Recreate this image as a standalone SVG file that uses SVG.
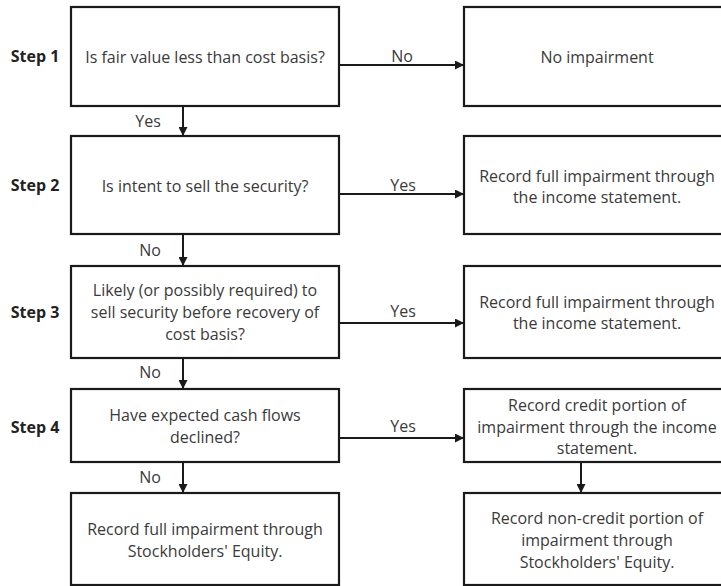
<svg xmlns="http://www.w3.org/2000/svg" width="721" height="586" viewBox="0 0 721 586">
<style>
.box{fill:#fff;stroke:#1a1a1a;stroke-width:2.2}
.t{font-family:"Open Sans","Liberation Sans",sans-serif;font-size:16px;fill:#3a3a3a;text-anchor:middle}
.s{font-family:"Open Sans","Liberation Sans",sans-serif;font-size:16px;font-weight:bold;fill:#222;text-anchor:middle}
.c{stroke:#1a1a1a;stroke-width:2;fill:none;marker-end:url(#ah)}
</style>
<defs>
<marker id="ah" viewBox="0 0 10 10" refX="10" refY="5" markerWidth="5" markerHeight="4.5" orient="auto" markerUnits="strokeWidth">
<path d="M0,0 L10,5 L0,10 z" fill="#1a1a1a"/>
</marker>
</defs>
<rect width="721" height="586" fill="#fff"/>
<g id="steps">
<text class="s" x="35" y="62">Step 1</text>
<text class="s" x="35" y="191">Step 2</text>
<text class="s" x="35" y="318">Step 3</text>
<text class="s" x="35" y="433">Step 4</text>
</g>
<g id="q1"><rect class="box" x="71" y="7" width="268" height="99"/>
<text class="t" x="205" y="63">Is fair value less than cost basis?</text></g>
<g id="q2"><rect class="box" x="71" y="136" width="268" height="98"/>
<text class="t" x="205" y="192">Is intent to sell the security?</text></g>
<g id="q3"><rect class="box" x="71" y="266" width="268" height="92"/>
<text class="t" x="205" y="296">Likely (or possibly required) to</text>
<text class="t" x="205" y="318">sell security before recovery of</text>
<text class="t" x="205" y="340">cost basis?</text></g>
<g id="q4"><rect class="box" x="71" y="389" width="268" height="73"/>
<text class="t" x="205" y="421">Have expected cash flows</text>
<text class="t" x="205" y="443">declined?</text></g>
<g id="r5"><rect class="box" x="71" y="493" width="268" height="92"/>
<text class="t" x="205" y="535">Record full impairment through</text>
<text class="t" x="205" y="557">Stockholders' Equity.</text></g>
<g id="a1"><rect class="box" x="464" y="7" width="268" height="99"/>
<text class="t" x="597" y="63">No impairment</text></g>
<g id="a2"><rect class="box" x="464" y="136" width="268" height="98"/>
<text class="t" x="597" y="182">Record full impairment through</text>
<text class="t" x="597" y="203">the income statement.</text></g>
<g id="a3"><rect class="box" x="464" y="266" width="268" height="92"/>
<text class="t" x="597" y="308">Record full impairment through</text>
<text class="t" x="597" y="329">the income statement.</text></g>
<g id="a4"><rect class="box" x="464" y="389" width="268" height="73"/>
<text class="t" x="597" y="411">Record credit portion of</text>
<text class="t" x="597" y="433">impairment through the income</text>
<text class="t" x="597" y="454">statement.</text></g>
<g id="a5"><rect class="box" x="464" y="493" width="268" height="92"/>
<text class="t" x="597" y="524">Record non-credit portion of</text>
<text class="t" x="597" y="546">impairment through</text>
<text class="t" x="597" y="568">Stockholders' Equity.</text></g>
<g id="connectors">
<path class="c" d="M339,65 H464"/>
<path class="c" d="M339,194 H464"/>
<path class="c" d="M339,323 H464"/>
<path class="c" d="M339,438 H464"/>
<path class="c" d="M183,106 V136"/>
<path class="c" d="M183,234 V266"/>
<path class="c" d="M183,358 V389"/>
<path class="c" d="M183,462 V493"/>
<path class="c" d="M581,462 V493"/>
<text class="t" x="402" y="62">No</text>
<text class="t" x="403" y="191">Yes</text>
<text class="t" x="403" y="317">Yes</text>
<text class="t" x="403" y="432">Yes</text>
<text class="t" x="148" y="127">Yes</text>
<text class="t" x="150" y="256">No</text>
<text class="t" x="150" y="378">No</text>
<text class="t" x="150" y="483">No</text>
</g>
</svg>
